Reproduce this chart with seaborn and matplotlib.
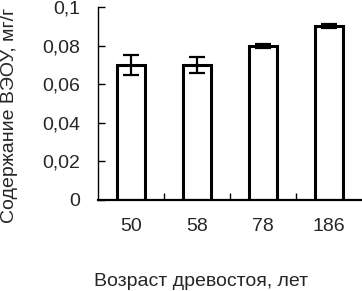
import numpy as np
import pandas as pd
import seaborn as sns
import matplotlib.pyplot as plt

# Данные: возраст древостоя и содержание ВЭОУ
ages = ["50", "58", "78", "186"]
values = [0.070, 0.070, 0.080, 0.090]
errors = [0.005, 0.004, 0.001, 0.001]
yticks = [0, 0.02, 0.04, 0.06, 0.08, 0.1]
ytick_labels = ["0", "0,02", "0,04", "0,06", "0,08", "0,1"]

df = pd.DataFrame({"age": ages, "value": values, "err": errors})

sns.set_style("white")
plt.rcParams["font.family"] = ["Liberation Sans", "DejaVu Sans"]

fig = plt.figure(figsize=(3.62, 2.91), dpi=100)
ax = fig.add_axes([98 / 362, 1 - 200 / 291, 264 / 362, 193 / 291])

sns.barplot(data=df, x="age", y="value", order=ages, color="white",
            edgecolor="black", linewidth=2.2, width=0.41,
            errorbar=None, ax=ax)

# Планки погрешностей по центрам столбцов
centers = [p.get_x() + p.get_width() / 2 for p in ax.patches]
ax.errorbar(centers, df["value"], yerr=df["err"], fmt="none",
            ecolor="black", elinewidth=1.6, capsize=5.5, capthick=1.6)

ax.set_xlim(-0.5, 3.5)
ax.set_ylim(0, 0.1)
ax.set_yticks(yticks)
ax.set_yticklabels(ytick_labels, fontsize=14)
ax.set_xticks(range(len(ages)))
ax.set_xticklabels(ages, fontsize=14)
ax.set_xticks([0.5, 1.5, 2.5], minor=True)

ax.tick_params(axis="x", which="major", length=0, pad=13)
ax.tick_params(axis="x", which="minor", direction="in", length=5,
               width=1, color="black", bottom=True)
ax.tick_params(axis="y", direction="in", length=5, width=1,
               color="black", pad=13, left=True)

for side in ["top", "right"]:
    ax.spines[side].set_visible(False)
ax.spines["left"].set_color("black")
ax.spines["left"].set_linewidth(1.0)
ax.spines["bottom"].set_color("black")
ax.spines["bottom"].set_linewidth(1.6)

ax.set_xlabel("")
ax.set_ylabel("")
fig.text(201 / 362, 1 - 281 / 291, "Возраст древостоя, лет", fontsize=14,
         ha="center", va="center")
fig.text(10 / 362, 1 - 115 / 291, "Содержание ВЭОУ, мг/г", fontsize=14,
         ha="center", va="center", rotation=90)

fig.savefig("out.png", dpi=100)
